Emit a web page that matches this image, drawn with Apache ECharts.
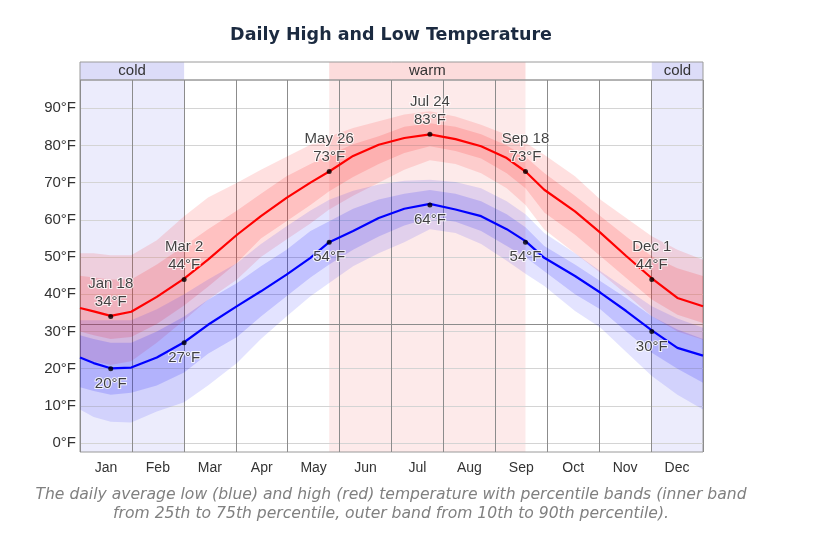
<!DOCTYPE html>
<html><head><meta charset="utf-8">
<script src="https://cdn.jsdelivr.net/npm/echarts@6/dist/echarts.min.js"></script>
<style>html,body{margin:0;padding:0;background:#fff}#c{width:813px;height:538px}</style>
</head><body><div id="c"></div>
<script>
// ---- data ----
const months = ['Jan','Feb','Mar','Apr','May','Jun','Jul','Aug','Sep','Oct','Nov','Dec'];
const days     = [0, 8, 18, 30, 45, 61, 75, 92, 106, 121, 135, 146, 160, 175, 190, 205, 220, 235, 250, 261, 272, 290, 305, 320, 335, 350, 365];
const highAvg  = [36.3, 35.4, 34.2, 35.3, 39.3, 44.2, 49.3, 56, 61, 65.9, 70, 73, 77.2, 80.2, 82, 83, 81.7, 79.8, 76.6, 73, 68.1, 62.3, 56.5, 50.3, 44.3, 39, 36.8];
const highP90  = [51, 51, 50.5, 50.5, 54.5, 61, 66, 70, 73.5, 77, 80.2, 82.4, 84.7, 86.5, 88.3, 89.2, 87.8, 85.6, 82.9, 80.7, 77.5, 71.7, 65.4, 60.5, 55.6, 52, 49.3];
const highP75  = [45, 44.5, 44, 44, 48, 53, 57.5, 62.5, 67, 71.7, 75, 77.5, 80.3, 82.5, 85, 86, 85, 83, 80, 77, 72.6, 66.5, 61, 55.5, 50.2, 47, 44.9];
const highP25  = [30, 29, 28, 28.5, 32, 37, 42, 48.5, 55, 59.6, 64, 67.7, 71.5, 75, 78, 79.8, 78.5, 76.5, 72.5, 68.5, 62, 56, 50.2, 44.4, 38.6, 34.5, 32.3];
const highP10  = [23, 22, 21, 22, 27, 33, 38.5, 44, 50, 54.7, 59, 62.8, 66.5, 70, 73.5, 76, 75, 72.5, 68.5, 64, 57.4, 51, 45.7, 40, 34.1, 30, 27.8];
const lowAvg   = [23, 21.5, 20.1, 20.3, 23, 27.1, 31.8, 36.8, 40.8, 45.3, 49.8, 54, 57, 60.5, 63, 64.3, 62.8, 61, 57.5, 54.3, 49.8, 44.9, 40.4, 35.5, 30.3, 25.6, 23.5];
const lowP90   = [33, 33, 33, 33, 36, 40, 44, 48.4, 53.5, 58.3, 62.5, 65.4, 67.8, 69.5, 70.5, 70.8, 70.2, 68.5, 65, 61.5, 56.5, 51, 46.2, 41.5, 36.8, 33.5, 31];
const lowP75   = [29, 28, 27, 27, 30, 34, 38.5, 43, 47.5, 52, 57, 59.6, 63, 65.5, 67, 68, 67, 65, 61.5, 58, 53, 48, 43.5, 39, 34.1, 30.5, 28];
const lowP25   = [15, 14, 13, 13.5, 15.5, 19, 24, 28.5, 34, 39.5, 44.5, 48, 52, 55.5, 58.5, 60.5, 59.5, 57, 53, 50, 46.2, 40, 35.9, 30, 24.3, 20, 16.2];
const lowP10   = [9, 7, 5.7, 5.5, 8.5, 11, 15.5, 21.5, 28, 34, 39.5, 43, 47.5, 51, 54, 57.5, 56.5, 53.5, 49, 45.5, 42.2, 35.5, 31, 24.5, 18, 13, 9];
const annDates = ['Jan 18', 'Mar 2', 'May 26', 'Jul 24', 'Sep 18', 'Dec 1'];
const annDays  = [18, 61, 146, 205, 261, 335];
const annHigh  = [34, 44, 73, 83, 73, 44];
const annLow   = [20, 27, 54, 64, 54, 30];
const seasonNames = ['cold', 'warm', 'cold'];
const seasonFrom  = [0, 146, 335];
const seasonTo    = [61, 261, 365];
const yTicks = [0, 10, 20, 30, 40, 50, 60, 70, 80, 90];
const freezing = 32;
const titleText = 'Daily High and Low Temperature';
const captionLines = ['The daily average low (blue) and high (red) temperature with percentile bands (inner band',
                      'from 25th to 75th percentile, outer band from 10th to 90th percentile).'];

// ---- build ----
const zip = (xs, ys) => xs.map((x, i) => [x, ys[i]]);
const bands = [
  {lo: highP10, hi: highP90, color: 'rgba(255,0,0,0.12)'},
  {lo: highP25, hi: highP75, color: 'rgba(255,0,0,0.14)'},
  {lo: lowP10,  hi: lowP90,  color: 'rgba(0,0,255,0.11)'},
  {lo: lowP25,  hi: lowP75,  color: 'rgba(0,0,255,0.15)'}
];
const FONT = 'Liberation Sans, Arial, sans-serif';

const chart = echarts.init(document.getElementById('c'), null, {renderer: 'canvas'});
chart.setOption({
  animation: false,
  grid: [
    {left: 80, right: 110, top: 80, bottom: 86, show: true, borderColor: '#9a9a9a', borderWidth: 1, backgroundColor: 'transparent'},
    {left: 80, right: 110, top: 62, height: 18, show: true, borderColor: '#9a9a9a', borderWidth: 1, backgroundColor: 'transparent'}
  ],
  xAxis: [
    {type: 'value', gridIndex: 0, min: 0, max: 365, show: false},
    {type: 'category', gridIndex: 0, data: months, position: 'bottom', boundaryGap: true,
     axisLine: {show: false}, axisTick: {show: false},
     axisLabel: {interval: 0, color: '#333', fontSize: 14, fontFamily: FONT, margin: 9},
     splitLine: {show: true, interval: 0, lineStyle: {color: '#8c8c8c', width: 1}}},
    {type: 'value', gridIndex: 1, min: 0, max: 365, show: false}
  ],
  yAxis: [
    {type: 'value', gridIndex: 0, min: -2.4, max: 97.6,
     axisLine: {show: false}, axisTick: {show: false, customValues: yTicks},
     axisLabel: {customValues: yTicks, formatter: '{value}°F', color: '#333', fontSize: 15, fontFamily: FONT, margin: 4},
     splitLine: {show: true, lineStyle: {color: '#d4d4d4', width: 1}}},
    {type: 'value', gridIndex: 1, min: 0, max: 1, show: false}
  ],
  graphic: [
    {type: 'text', x: 391, y: 35, style: {text: titleText, align: 'center', verticalAlign: 'middle',
      font: 'bold 17.5px DejaVu Sans', fill: '#1b2a40'}},
    {type: 'text', x: 391, y: 495, style: {text: captionLines[0], align: 'center', verticalAlign: 'middle',
      font: 'italic 15.6px DejaVu Sans', fill: '#808080'}},
    {type: 'text', x: 391, y: 514, style: {text: captionLines[1], align: 'center', verticalAlign: 'middle',
      font: 'italic 15.6px DejaVu Sans', fill: '#808080'}}
  ],
  series: [
    // season backgrounds
    {type: 'custom', xAxisIndex: 0, yAxisIndex: 0, z: -1, silent: true,
     data: seasonFrom.map((f, i) => [f, seasonTo[i]]),
     encode: {x: [0, 1]},
     renderItem: (params, api) => {
       const cs = params.coordSys;
       const x0 = api.coord([api.value(0), 0])[0];
       const x1 = api.coord([api.value(1), 0])[0];
       const cold = seasonNames[params.dataIndex] === 'cold';
       return {type: 'rect', shape: {x: x0, y: cs.y, width: x1 - x0, height: cs.height},
               style: {fill: cold ? '#ececfc' : '#fdeaea'}};
     }},
    // header cells
    {type: 'custom', xAxisIndex: 2, yAxisIndex: 1, z: -1, silent: true,
     data: seasonFrom.map((f, i) => [f, seasonTo[i]]),
     encode: {x: [0, 1]},
     renderItem: (params, api) => {
       const cs = params.coordSys;
       const x0 = api.coord([api.value(0), 0])[0];
       const x1 = api.coord([api.value(1), 0])[0];
       const name = seasonNames[params.dataIndex];
       return {type: 'rect', shape: {x: x0, y: cs.y, width: x1 - x0, height: cs.height},
               style: {fill: name === 'cold' ? '#dcdcf8' : '#fcdcdc'},
               textContent: {style: {text: name, fill: '#333', font: '15px Liberation Sans'}},
               textConfig: {position: 'inside'}};
     }},
    // percentile bands
    {type: 'custom', xAxisIndex: 0, yAxisIndex: 0, z: 1, silent: true, clip: true,
     data: bands.map((b, i) => [i]),
     renderItem: (params, api) => {
       const b = bands[params.dataIndex];
       const top = days.map((d, k) => api.coord([d, b.hi[k]]));
       const bot = days.map((d, k) => api.coord([d, b.lo[k]])).reverse();
       return {type: 'polygon', shape: {points: top.concat(bot)}, style: {fill: b.color, lineWidth: 0}};
     }},
    // high line
    {type: 'line', xAxisIndex: 0, yAxisIndex: 0, z: 3, data: zip(days, highAvg), symbol: 'none', silent: true,
     lineStyle: {color: '#ff0000', width: 2.2},
     markLine: {silent: true, symbol: ['none', 'none'], label: {show: false}, z: 1,
       lineStyle: {color: '#8c8c8c', type: 'solid', width: 1}, data: [{yAxis: freezing}]}},
    // low line
    {type: 'line', xAxisIndex: 0, yAxisIndex: 0, z: 3, data: zip(days, lowAvg), symbol: 'none', silent: true,
     lineStyle: {color: '#0000ff', width: 2.2}},
    // annotations high
    {type: 'scatter', xAxisIndex: 0, yAxisIndex: 0, z: 4, symbolSize: 5, silent: true,
     itemStyle: {color: '#000'},
     data: annDays.map((d, i) => ({value: [d, annHigh[i]], name: annDates[i]})),
     label: {show: true, position: 'top', distance: 3, color: '#111', fontSize: 15, fontFamily: FONT,
       lineHeight: 18, textBorderColor: '#fff', textBorderWidth: 2,
       formatter: p => p.name + '\n' + p.value[1] + '°F'}},
    // annotations low
    {type: 'scatter', xAxisIndex: 0, yAxisIndex: 0, z: 4, symbolSize: 5, silent: true,
     itemStyle: {color: '#000'},
     data: annDays.map((d, i) => [d, annLow[i]]),
     label: {show: true, position: 'bottom', distance: 5, color: '#111', fontSize: 15, fontFamily: FONT,
       textBorderColor: '#fff', textBorderWidth: 2,
       formatter: p => p.value[1] + '°F'}}
  ]
});
</script></body></html>
